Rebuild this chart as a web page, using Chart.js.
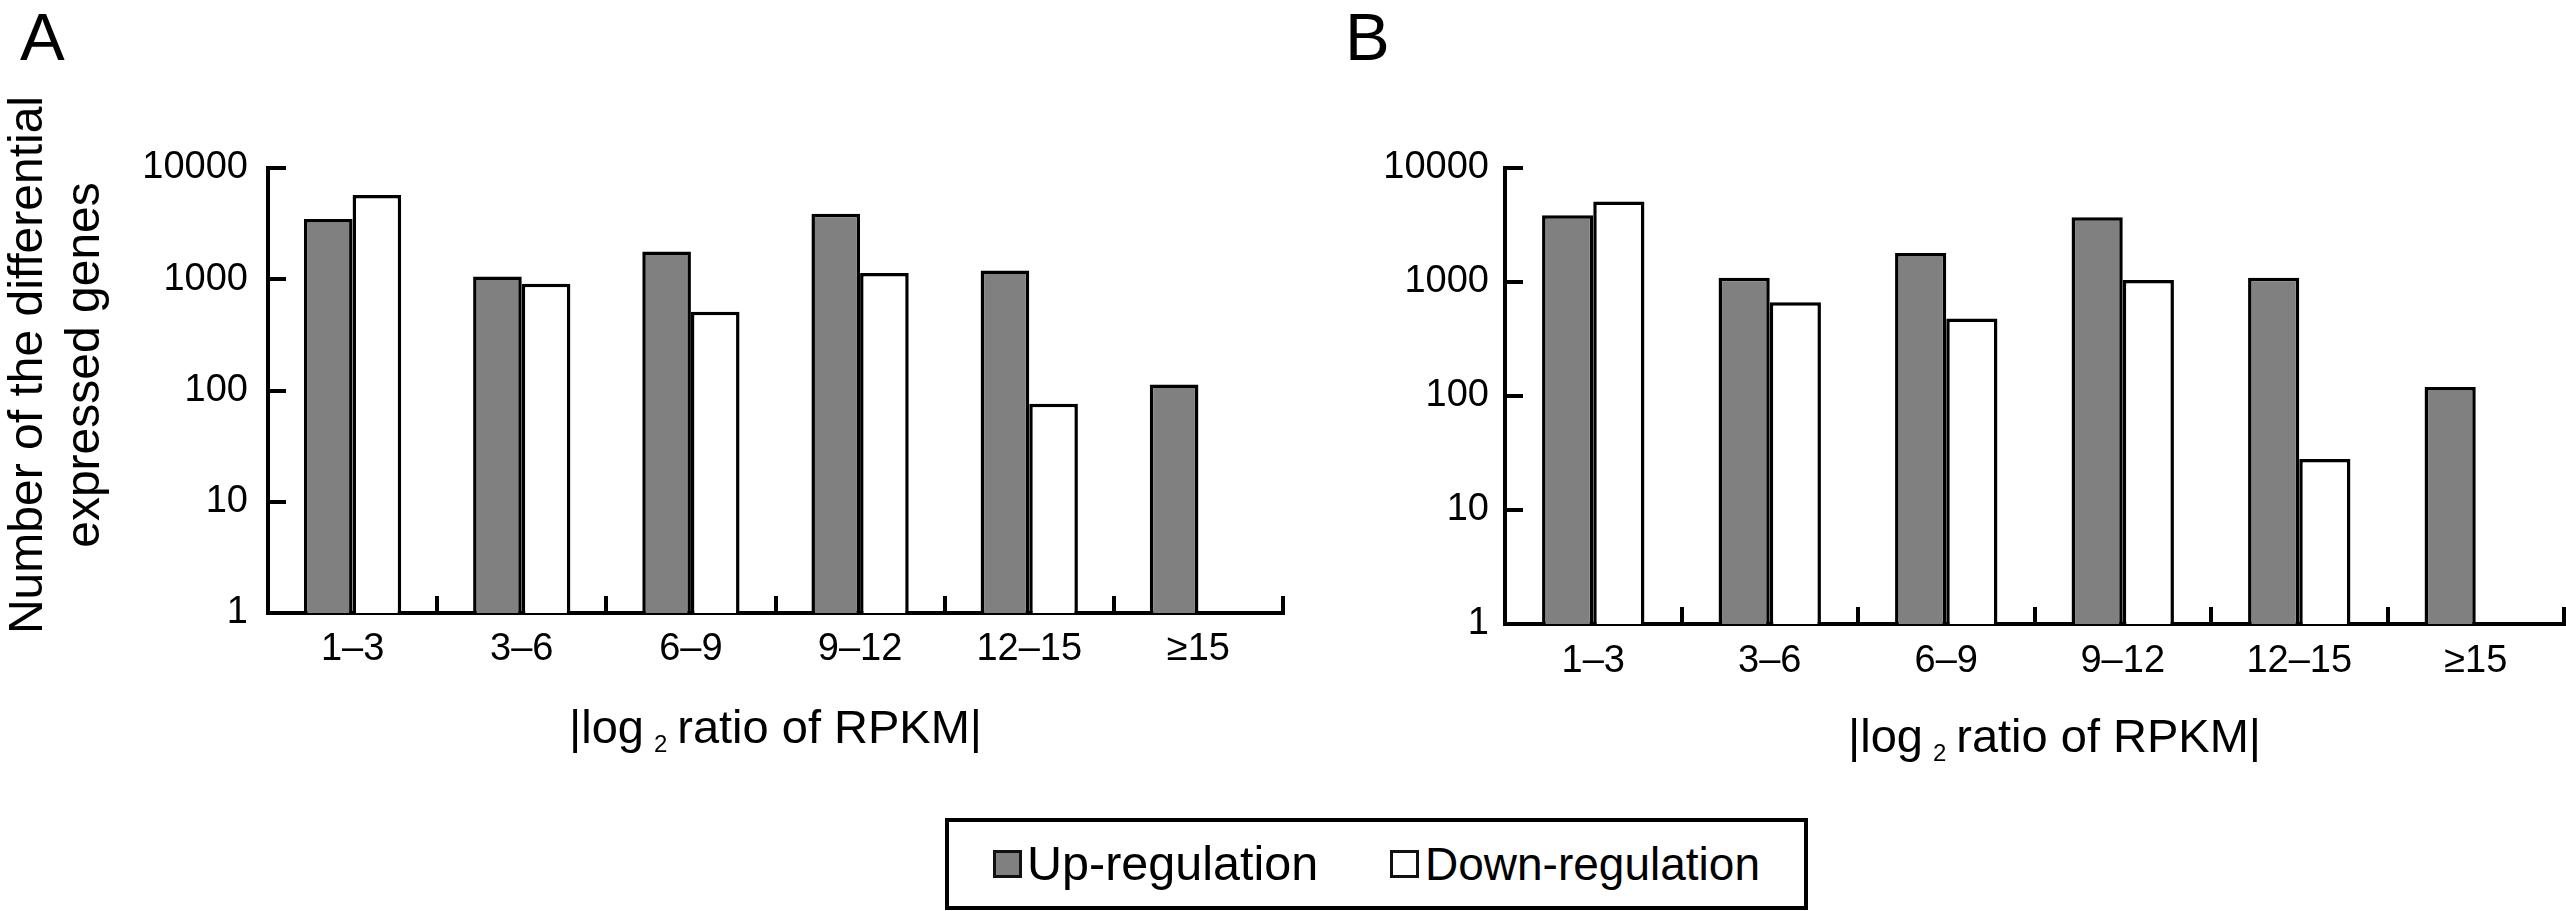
<!DOCTYPE html>
<html>
<head>
<meta charset="utf-8">
<script src="https://cdn.jsdelivr.net/npm/chart.js@4.4.0/dist/chart.umd.min.js"></script>
<style>
  html, body { margin: 0; padding: 0; background: #fff; }
  body { width: 2566px; height: 911px; position: relative; overflow: hidden;
         font-family: "Liberation Sans", Arial, sans-serif; color: #000; }
  canvas { position: absolute; top: 0; }
  #chartA { left: 0; }
  #chartB { left: 1283px; }
  .panel { position: absolute; top: 3px; font-size: 67px; line-height: 1; }
  #legend { position: absolute; left: 945px; top: 818px; width: 863px; height: 92px;
            box-sizing: border-box; border: 4px solid #000; background: #fff; }
  .sq { position: absolute; top: 28px; width: 29px; height: 28px; box-sizing: border-box; border: 3px solid #111; }
  .lbl { position: absolute; top: 18px; font-size: 47px; line-height: 1; white-space: nowrap; }
</style>
</head>
<body>
<div class="panel" style="left:20px">A</div>
<div class="panel" style="left:1345px">B</div>
<canvas id="chartA" width="1300" height="911"></canvas>
<canvas id="chartB" width="1283" height="911"></canvas>
<div id="legend">
  <div class="sq" style="left:44px; background:#808080"></div>
  <div class="lbl" style="left:78px; font-size:48.5px; top:17px">Up-regulation</div>
  <div class="sq" style="left:441px; background:#fff"></div>
  <div class="lbl" style="left:476px; font-size:46px; top:19px">Down-regulation</div>
</div>
<script>
// data
const categories = ['1–3', '3–6', '6–9', '9–12', '12–15', '≥15'];
const upA = [3480, 1060, 1780, 3880, 1200, 113];
const downA = [5720, 910, 510, 1140, 76, null];
const upB = [3850, 1090, 1800, 3690, 1090, 120];
const downB = [5080, 665, 479, 1040, 28, null];
const yTicks = [1, 10, 100, 1000, 10000];
const xTitle = ['|log', '2', 'ratio of RPKM|'];
const yTitle = ['Number of the differential', 'expressed genes'];

const FONT = '"Liberation Sans", Arial, sans-serif';
Chart.defaults.font.family = FONT;
Chart.defaults.color = '#000';

// axis titles (x title has a subscript, so it is drawn by hand)
const axisText = {
  id: 'axisText',
  afterDraw(chart, args, opts) {
    const ctx = chart.ctx, a = chart.chartArea;
    ctx.save();
    ctx.fillStyle = '#000';
    ctx.textBaseline = 'alphabetic';
    ctx.textAlign = 'left';
    const big = '47px ' + FONT, small = '24px ' + FONT;
    ctx.font = big;
    const w1 = ctx.measureText(xTitle[0]).width;
    const w3 = ctx.measureText(xTitle[2]).width;
    ctx.font = small;
    const w2 = ctx.measureText(xTitle[1]).width;
    const gap = 10;
    let x = (a.left + a.right) / 2 + opts.dx - (w1 + w2 + w3 + 2 * gap) / 2;
    const y = a.bottom + opts.dy;
    ctx.font = big;
    ctx.fillText(xTitle[0], x, y);
    x += w1 + gap;
    ctx.font = small;
    ctx.fillText(xTitle[1], x, y + 9);
    x += w2 + gap;
    ctx.font = big;
    ctx.fillText(xTitle[2], x, y);

    if (opts.showY) {
      ctx.font = '48px ' + FONT;
      ctx.textAlign = 'center';
      const xs = [42, 99];
      yTitle.forEach((line, i) => {
        ctx.save();
        ctx.translate(xs[i], 365);
        ctx.rotate(-Math.PI / 2);
        ctx.fillText(line, 0, 0);
        ctx.restore();
      });
    }
    ctx.restore();
  }
};

function makeChart(id, up, down, o) {
  return new Chart(document.getElementById(id), {
    type: 'bar',
    data: {
      labels: categories,
      datasets: [
        { label: 'Up-regulation', data: up, backgroundColor: '#808080', borderColor: '#000', borderWidth: 3.5 },
        { label: 'Down-regulation', data: down, backgroundColor: '#fff', borderColor: '#000', borderWidth: 3.5 }
      ]
    },
    options: {
      responsive: false,
      animation: false,
      events: [],
      categoryPercentage: o.catPct,
      barPercentage: 1.0,
      layout: { padding: { top: 168, right: o.right, left: 0, bottom: 0 } },
      plugins: {
        legend: { display: false },
        tooltip: { enabled: false },
        axisText: { dx: o.titleDx, dy: o.titleDy, showY: o.showY }
      },
      scales: {
        x: {
          offset: true,
          grid: { offset: true, drawOnChartArea: false, drawTicks: true, tickLength: -17, lineWidth: 4, color: '#000' },
          border: { display: true, width: 4, color: '#000' },
          ticks: { font: { size: 38 }, color: '#000', padding: o.xPad, maxRotation: 0, minRotation: 0, autoSkip: false },
          afterFit: s => { s.height = 911 - o.bottom; }
        },
        y: {
          type: 'logarithmic',
          min: 1,
          max: 10000,
          afterBuildTicks: s => { s.ticks = yTicks.map(v => ({ value: v })); },
          grid: { drawOnChartArea: false, drawTicks: true, tickLength: -18, lineWidth: 4, color: '#000' },
          border: { display: true, width: 4, color: '#000' },
          ticks: { font: { size: 38 }, color: '#000', padding: o.yPad, autoSkip: false, callback: v => String(v) },
          afterFit: s => { s.width = o.axisX; }
        }
      }
    },
    plugins: [axisText]
  });
}

makeChart('chartA', upA, downA, { catPct: 0.575, right: 17, axisX: 268, bottom: 613, xPad: 31, yPad: 38, titleDx: 0, titleDy: 130, showY: true });
makeChart('chartB', upB, downB, { catPct: 0.58, right: 2, axisX: 222, bottom: 624, xPad: 32, yPad: 34, titleDx: 20, titleDy: 128, showY: false });
</script>
</body>
</html>
